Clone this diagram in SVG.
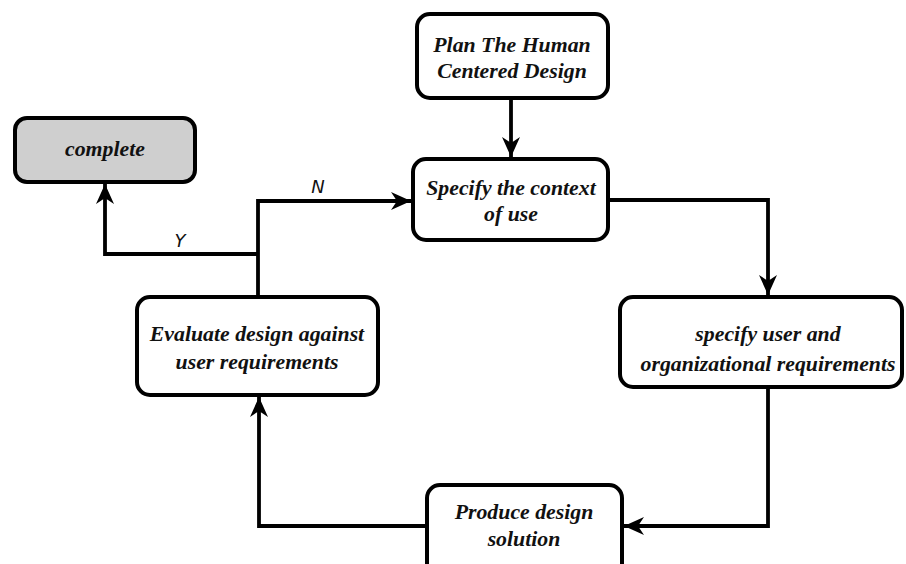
<svg xmlns="http://www.w3.org/2000/svg" width="906" height="564" viewBox="0 0 906 564">
<style>
.box{fill:#ffffff;stroke:#000;stroke-width:4}
.done{fill:#cfcfcf;stroke:#000;stroke-width:4}
.t{font-family:"Liberation Serif","Times New Roman",serif;font-weight:bold;font-style:italic;font-size:21.8px;fill:#111;text-anchor:middle}
.lbl{font-family:"DejaVu Sans","Liberation Sans",sans-serif;font-style:italic;font-size:18px;fill:#111;text-anchor:middle}
.c{fill:none;stroke:#000;stroke-width:3.8}
</style>
<defs>
<marker id="ah" viewBox="-21 -10 22 20" refX="0" refY="0" markerWidth="22" markerHeight="20" markerUnits="userSpaceOnUse" orient="auto">
<path d="M0,0 L-20,-9 L-14,0 L-20,9 Z" fill="#000"/>
</marker>
</defs>
<g id="connectors">
<path class="c" d="M511,98 L511,157" marker-end="url(#ah)"/>
<path class="c" d="M608,200 L768,200 L768,295" marker-end="url(#ah)"/>
<path class="c" d="M768,388 L768,526 L624,526" marker-end="url(#ah)"/>
<path class="c" d="M427,526 L259,526 L259,397" marker-end="url(#ah)"/>
<path class="c" d="M258,297 L258,201 L411,201" marker-end="url(#ah)"/>
<path class="c" d="M258,254 L105,254 L105,184" marker-end="url(#ah)"/>
<text class="lbl" x="318" y="193">N</text>
<text class="lbl" x="180" y="247">Y</text>
</g>
<g id="plan">
<rect class="box" x="417" y="14" width="191" height="84" rx="13"/>
<text class="t" x="512" y="52">Plan The Human</text>
<text class="t" x="512" y="78">Centered Design</text>
</g>
<g id="context">
<rect class="box" x="413" y="159" width="195" height="81" rx="13"/>
<text class="t" x="511" y="195">Specify the context</text>
<text class="t" x="511" y="221">of use</text>
</g>
<g id="requirements">
<rect class="box" x="620" y="297" width="282" height="90" rx="13"/>
<text class="t" x="768" y="341">specify user and</text>
<text class="t" x="768" y="371">organizational requirements</text>
</g>
<g id="produce">
<rect class="box" x="427" y="485" width="195" height="100" rx="13"/>
<text class="t" x="524" y="519">Produce design</text>
<text class="t" x="524" y="546">solution</text>
</g>
<g id="evaluate">
<rect class="box" x="137" y="297" width="241" height="98" rx="13"/>
<text class="t" x="257" y="341">Evaluate design against</text>
<text class="t" x="257" y="369">user requirements</text>
</g>
<g id="complete">
<rect class="done" x="15" y="118" width="180" height="64" rx="12"/>
<text class="t" x="105" y="156">complete</text>
</g>
</svg>
